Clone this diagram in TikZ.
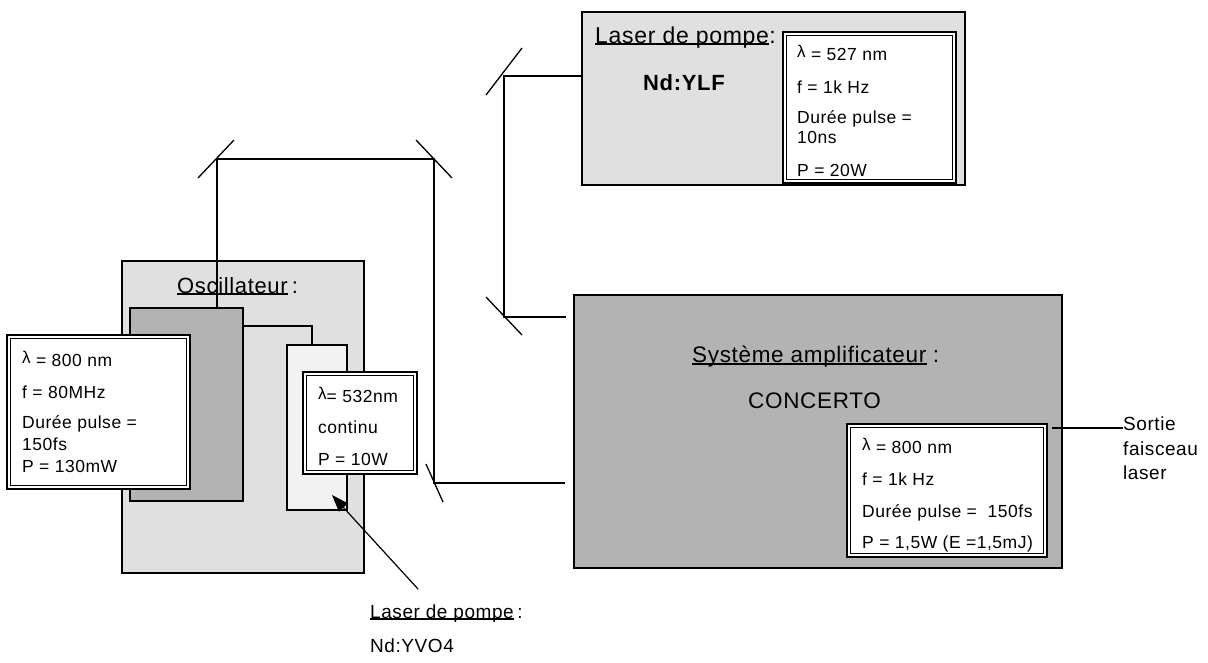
\documentclass[tikz,border=0pt]{standalone}
\usepackage{fontspec}
\setmainfont{Liberation Sans}[LetterSpace=3]
\usetikzlibrary{arrows.meta,calc}
\definecolor{lgray}{HTML}{E0E0E0}
\definecolor{dgray}{HTML}{B3B3B3}
\definecolor{vlgray}{HTML}{F2F2F2}
\newcommand\lam{\raisebox{3pt}{\fontsize{17}{17}\selectfont λ}}
\newcommand\myinfobox[4]{%
  \fill[white] (#1,#2) rectangle (#3,#4);
  \draw[line width=2pt] (#1,#2) rectangle (#3,#4);
  \draw[line width=0.9pt] ($(#1,#2)+(3.5,3.5)$) rectangle ($(#3,#4)+(-3.5,-3.5)$);}
\tikzset{
  lbl/.style={anchor=base west, inner sep=0, font=\fontsize{17.5}{20}\selectfont},
  ttl/.style={anchor=base west, inner sep=0, font=\fontsize{22.5}{25}\selectfont},
  sml/.style={anchor=base west, inner sep=0, font=\fontsize{19}{22}\selectfont},
  box/.style={draw=black, line width=1.2pt},
  beam/.style={line width=1.1pt},
  mirror/.style={line width=1.3pt},
  uline/.style={line width=1.1pt}
}
\begin{document}
\begin{tikzpicture}[x=1pt,y=-1pt]
\useasboundingbox (0,0) rectangle (1208,662);
% ---------- Oscillateur ----------
\filldraw[box, fill=lgray] (122,261) rectangle (364,573);
\node[ttl, font=\fontsize{22}{25}\selectfont] (osct) at (177,293) {Oscillateur\ };
\node[ttl, font=\fontsize{22}{25}\selectfont, anchor=base west] (oscc) at (osct.base east) {\,:};
\draw[uline] ([yshift=-1pt]osct.base west) -- ([yshift=-1pt]osct.base east);
\filldraw[box, fill=dgray] (130,308) rectangle (243,501);
\coordinate (dk) at (243,326);
\coordinate (lt) at (312,345);
\draw[line width=1.1pt] (dk) -| (lt);
\filldraw[box, fill=vlgray] (287,345) rectangle (347,510);
% left info box
\myinfobox{7}{335}{190}{489}
\node[lbl] (l1) at (22,366) {\lam{} = 800 nm};
\node[lbl] (l2) at (22,398) {f = 80MHz};
\node[lbl] (l3) at (22,428) {Durée pulse =};
\node[lbl] (l4) at (22,450) {150fs};
\node[lbl] (l5) at (22,472) {P = 130mW};
% 532 box
\myinfobox{303}{372}{417}{474}
\node[lbl] (v1) at (318,402) {\lam= 532nm};
\node[lbl] (v2) at (318,433) {continu};
\node[lbl] (v3) at (318,465) {P = 10W};
% arrow and label
\node[sml] (bt) at (370,618) {Laser de pompe};
\node[sml, anchor=base west] (bc) at (bt.base east) {\,:};
\draw[uline] ([yshift=-1pt]bt.base west) -- ([yshift=-1pt]bt.base east);
\node[sml] (bn) at (370,652) {Nd:YVO4};
\coordinate (arrs) at (418,589);
\coordinate (arre) at (332,495);
\draw[line width=1.2pt, -{Triangle[length=17pt,width=12pt]}] (arrs) -- (arre);
% ---------- Laser de pompe (top) ----------
\filldraw[box, fill=lgray] (582,12) rectangle (965,185);
\node[ttl, font=\fontsize{23}{25}\selectfont] (pt) at (595,43) {Laser de pompe\ };
\node[ttl, font=\fontsize{23}{25}\selectfont, anchor=base west] (pc) at (pt.base east) {:};
\draw[uline] ([yshift=-1pt]pt.base west) -- ([yshift=-1pt]pt.base east);
\node[anchor=base west, inner sep=0, font=\fontsize{22}{24}\selectfont\bfseries] (ylf) at (643,90) {Nd:YLF};
\myinfobox{783}{32}{956}{183}
\node[lbl] (p1) at (797,60) {\lam{} = 527 nm};
\node[lbl] (p2) at (797,93) {f = 1k Hz};
\node[lbl] (p3) at (797,123) {Durée pulse =};
\node[lbl] (p4) at (797,143) {10ns};
\node[lbl] (p5) at (797,176) {P = 20W};
% ---------- Amplificateur ----------
\filldraw[box, fill=dgray] (574,295) rectangle (1062,568);
\node[ttl] (at) at (692,362) {Système amplificateur\ };
\node[ttl, anchor=base west] (ac) at ([xshift=6pt]at.base east) {:};
\draw[uline] ([yshift=-2pt]at.base west) -- ([yshift=-2pt]at.base east);
\node[ttl] (conc) at (748,408) {CONCERTO};
\myinfobox{847}{424}{1047}{557}
\node[lbl] (c1) at (862,453) {\lam{} = 800 nm};
\node[lbl] (c2) at (862,485) {f = 1k Hz};
\node[lbl] (c3) at (862,517) {Durée pulse =\ \ 150fs};
\node[lbl] (c4) at (862,548) {P = 1,5W (E =1,5mJ)};
% output
\coordinate (outs) at (1052,428);
\node[sml] (so1) at (1123,430) {Sortie};
\node[sml] (so2) at (1123,455) {faisceau};
\node[sml] (so3) at (1123,479) {laser};
\draw[beam] (outs) -- (outs -| so1.west);
% ---------- beams & mirrors ----------
\coordinate (m1) at (217,159);
\coordinate (m2) at (434,159);
\coordinate (m3) at (434,483);
\coordinate (m4) at (504,76);
\coordinate (m5) at (504,317);
\coordinate (b0) at (217,308);
\coordinate (b1) at (565,483);
\coordinate (b2) at (583,76);
\coordinate (b3) at (566,317);
\draw[beam] (b0) -- (m1) -- (m2) -- (m3) -- (b1);
\draw[beam] (b2) -- (m4) -- (m5) -- (b3);
\draw[mirror] (198,178) -- (234,140);
\draw[mirror] (416,140) -- (452,178);
\draw[mirror] (426,464) -- (443,502);
\draw[mirror] (486,95) -- (522,48);
\draw[mirror] (486,297) -- (522,335);
\end{tikzpicture}
\end{document}
